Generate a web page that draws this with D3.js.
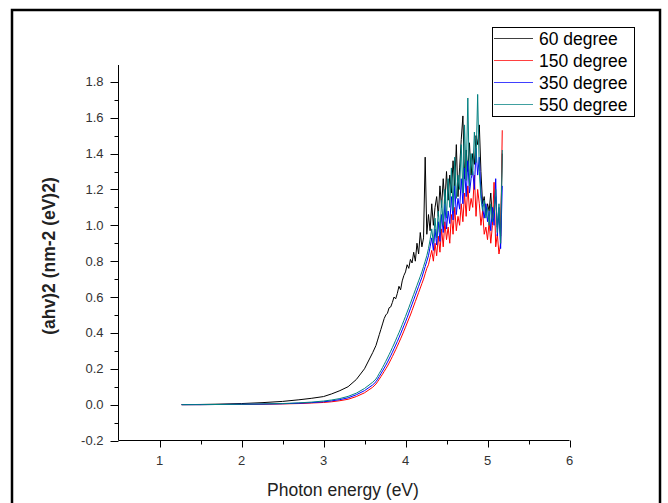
<!DOCTYPE html>
<html><head><meta charset="utf-8">
<script src="https://cdn.jsdelivr.net/npm/d3@7"></script>
<style>body{margin:0;background:#fff;}svg{display:block;}</style>
</head><body>
<svg id="c" width="668" height="503"></svg>
<script>
const xs = [1.27,1.5,1.75,2.0,2.25,2.5,2.7,2.85,3.0,3.1,3.2,3.3,3.4,3.5,3.6,
3.64,3.66,3.68,3.70,3.72,3.74,3.76,3.78,3.80,3.82,3.84,3.86,3.88,3.90,3.92,3.94,3.96,3.98,
4.00,4.02,4.04,4.06,4.08,4.10,4.12,4.14,4.16,4.18,4.20,4.22,4.24,4.26,4.28,4.30,4.32,4.34,4.36,4.38,
4.40,4.42,4.44,4.46,4.48,4.50,4.52,4.54,4.56,4.58,4.60,4.62,4.64,4.66,4.68,4.70,4.72,4.74,4.76,4.78,
4.80,4.82,4.84,4.86,4.88,4.90,4.92,4.94,4.96,4.98,5.00,5.02,5.04,5.06,5.08,5.10,5.12,5.14,5.16,5.18];

const deg60 = [0,0.001,0.003,0.006,0.011,0.018,0.027,0.035,0.045,0.06,0.078,0.1,0.14,0.2,0.29,
0.33,0.36,0.39,0.42,0.45,0.48,0.50,0.51,0.54,0.545,0.57,0.60,0.59,0.62,0.66,0.64,0.69,0.72,
0.74,0.78,0.76,0.81,0.79,0.85,0.80,0.90,0.84,0.96,0.88,0.93,1.38,0.95,1.06,0.97,1.12,1.00,1.10,1.16,
1.05,1.22,1.10,1.26,1.12,1.30,1.14,1.28,1.18,1.36,1.22,1.45,1.16,1.32,1.48,1.61,1.26,1.42,1.30,1.46,
1.28,1.40,1.34,1.50,1.45,1.56,1.30,1.12,1.16,1.06,1.12,1.08,1.18,1.03,1.10,1.16,0.99,1.06,0.94,1.40];

const deg150 = [0,0,0.001,0.001,0.002,0.004,0.006,0.009,0.012,0.016,0.022,0.03,0.045,0.066,0.097,
0.115,0.128,0.142,0.156,0.17,0.185,0.20,0.215,0.232,0.25,0.268,0.287,0.306,0.326,0.346,0.367,0.388,0.41,
0.432,0.455,0.478,0.50,0.525,0.55,0.575,0.60,0.625,0.65,0.675,0.70,0.73,0.76,0.78,0.82,0.86,0.80,0.90,0.83,
0.94,0.85,0.98,0.88,1.02,0.92,0.99,0.90,1.06,0.95,1.10,0.97,1.05,1.00,1.12,1.02,1.18,1.05,1.22,1.08,
1.15,1.10,1.28,1.05,1.20,1.12,1.00,1.08,0.95,0.99,0.92,1.02,0.90,1.00,1.24,0.88,0.95,0.84,0.90,1.53];

const deg350 = [0,0,0.001,0.002,0.003,0.005,0.008,0.011,0.016,0.021,0.028,0.038,0.055,0.078,0.11,
0.128,0.142,0.157,0.172,0.188,0.204,0.22,0.237,0.255,0.273,0.292,0.312,0.332,0.352,0.373,0.395,0.417,0.44,
0.462,0.485,0.51,0.535,0.56,0.585,0.61,0.635,0.66,0.685,0.71,0.74,0.77,0.80,0.83,0.88,0.93,0.86,0.98,0.89,
1.02,0.91,1.06,0.96,1.12,0.98,1.08,1.01,1.16,1.03,1.22,1.06,1.15,1.09,1.26,1.12,1.32,1.16,1.36,1.18,
1.26,1.30,1.20,1.43,1.28,1.38,1.18,1.10,1.04,1.12,1.02,1.08,0.97,1.10,1.00,1.26,0.94,1.10,0.87,1.22];

const deg550 = [0,0,0.001,0.002,0.004,0.006,0.01,0.014,0.02,0.026,0.034,0.046,0.064,0.09,0.125,
0.143,0.158,0.174,0.19,0.207,0.224,0.242,0.26,0.279,0.298,0.318,0.338,0.359,0.38,0.401,0.423,0.446,0.469,
0.492,0.516,0.54,0.565,0.59,0.615,0.64,0.665,0.69,0.715,0.74,0.77,0.80,0.83,0.87,0.92,0.98,0.90,1.04,0.93,
1.08,0.96,1.14,1.00,1.20,1.04,1.26,1.10,1.32,1.08,1.38,1.15,1.28,1.20,1.45,1.18,1.56,1.25,1.71,1.22,
1.40,1.28,1.52,1.35,1.73,1.30,1.15,1.08,1.14,1.04,1.10,1.00,1.12,1.02,1.08,1.20,0.96,1.12,0.90,1.42];

const seriesNames = ["60 degree","150 degree","350 degree","550 degree"];
const seriesColors = ["#000000","#ff0000","#0000ff","#008080"];
const seriesValues = [deg60, deg150, deg350, deg550];
const xTicks = [1,2,3,4,5,6];
const yTicks = [-0.2,0.0,0.2,0.4,0.6,0.8,1.0,1.2,1.4,1.6,1.8];

const svg = d3.select("#c");
const FONT = "'Liberation Sans', Arial, sans-serif";

// outer frame
svg.append("rect").attr("x",12).attr("y",10).attr("width",648).attr("height",500)
  .attr("fill","none").attr("stroke","#000").attr("stroke-width",2.5);

const x = d3.scaleLinear().domain([0.5,6]).range([118.5,569.5]);
const y = d3.scaleLinear().domain([-0.2,1.894]).range([440.5,65]);

// x axis
const gx = svg.append("g").attr("transform","translate(0,440.5)");
gx.append("line").attr("x1",x.range()[0]).attr("x2",x.range()[1]).attr("stroke","#000").attr("stroke-width",1);
const xMinor = [1.5,2.5,3.5,4.5,5.5];
gx.selectAll(".xm").data(xMinor).enter().append("line")
  .attr("x1",d=>Math.round(x(d))+0.5).attr("x2",d=>Math.round(x(d))+0.5).attr("y1",0).attr("y2",4).attr("stroke","#000");
gx.selectAll(".xt").data(xTicks).enter().append("line")
  .attr("x1",d=>Math.round(x(d))+0.5).attr("x2",d=>Math.round(x(d))+0.5).attr("y1",0).attr("y2",7).attr("stroke","#000");
gx.selectAll(".xl").data(xTicks).enter().append("text")
  .attr("x",d=>x(d)).attr("y",24).attr("text-anchor","middle")
  .attr("font-family",FONT).attr("font-size",13).attr("fill","#333").text(d=>d);

// y axis
const gy = svg.append("g").attr("transform","translate(118.5,0)");
gy.append("line").attr("y1",y.range()[0]).attr("y2",y.range()[1]).attr("stroke","#000").attr("stroke-width",1);
const yMinor = yTicks.slice(0,-1).map(v=>v+0.1);
gy.selectAll(".ym").data(yMinor).enter().append("line")
  .attr("y1",d=>Math.round(y(d))+0.5).attr("y2",d=>Math.round(y(d))+0.5).attr("x1",0).attr("x2",-4).attr("stroke","#000");
gy.selectAll(".yt").data(yTicks).enter().append("line")
  .attr("y1",d=>Math.round(y(d))+0.5).attr("y2",d=>Math.round(y(d))+0.5).attr("x1",0).attr("x2",-8).attr("stroke","#000");
gy.selectAll(".yl").data(yTicks).enter().append("text")
  .attr("x",-15).attr("y",d=>y(d)).attr("dy","0.35em").attr("text-anchor","end")
  .attr("font-family",FONT).attr("font-size",13).attr("fill","#333").text(d=>d.toFixed(1));

// axis titles
svg.append("text").attr("x",343).attr("y",496).attr("text-anchor","middle")
  .attr("font-family",FONT).attr("font-size",17.5).attr("fill","#222").text("Photon energy (eV)");
svg.append("text").attr("transform","translate(55,256) rotate(-90)").attr("text-anchor","middle")
  .attr("font-family",FONT).attr("font-size",17.5).attr("font-weight","bold").attr("fill","#222")
  .text("(ahv)2 (nm-2 (eV)2)");

// lines
const line = d3.line().x(d=>x(d[0])).y(d=>y(d[1]));
seriesValues.forEach((vals,i)=>{
  svg.append("path").datum(xs.map((xv,j)=>[xv,vals[j]]))
    .attr("d",line).attr("fill","none").attr("stroke",seriesColors[i]).attr("stroke-width",1);
});

// legend
const lg = svg.append("g");
lg.append("rect").attr("x",492.5).attr("y",27.5).attr("width",142).attr("height",89)
  .attr("fill","#fff").attr("stroke","#000").attr("stroke-width",1);
seriesNames.forEach((n,i)=>{
  const yy = 38.5 + i*22;
  lg.append("line").attr("x1",494).attr("x2",533).attr("y1",yy).attr("y2",yy)
    .attr("stroke",seriesColors[i]).attr("stroke-width",1).attr("stroke-opacity",0.75);
  lg.append("text").attr("x",539).attr("y",yy).attr("dy","0.35em")
    .attr("font-family",FONT).attr("font-size",17.5).attr("fill","#000").text(n);
});
</script>
</body></html>
